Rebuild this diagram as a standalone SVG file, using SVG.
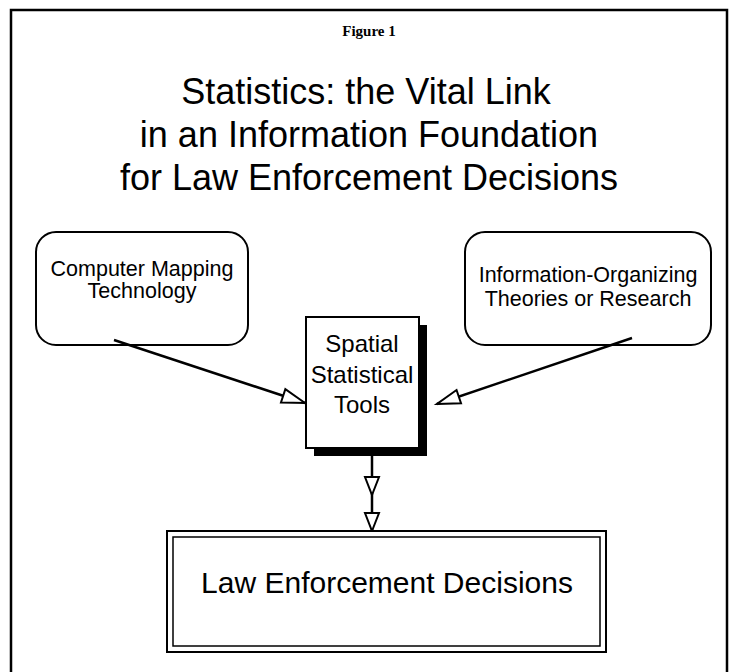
<svg xmlns="http://www.w3.org/2000/svg" width="737" height="672" viewBox="0 0 737 672">
  <style>
    .sans { font-family: "Liberation Sans", Arial, Helvetica, sans-serif; fill: #000; text-anchor: middle; }
    .title { font-size: 36px; }
    .label { font-size: 21.5px; }
    .center-label { font-size: 24px; }
    .decision-label { font-size: 30px; }
    .caption { font-family: "Liberation Serif", "Times New Roman", serif; font-size: 15px; font-weight: bold; text-anchor: middle; }
    .box { fill: #fff; stroke: #000; stroke-width: 2; }
    .conn { fill: none; stroke: #000; stroke-width: 2.5; }
  </style>
  <defs>
    <!-- hollow open-triangle arrowhead, tip at the path end -->
    <marker id="hollow" markerUnits="userSpaceOnUse" viewBox="-24 -9 26 18" refX="0" refY="0" markerWidth="26" markerHeight="18" orient="auto" overflow="visible">
      <path d="M0,0 L-23,-7 L-23,7 Z" fill="#fff" stroke="#000" stroke-width="2" stroke-linejoin="miter"/>
    </marker>
    <marker id="hollow-small" markerUnits="userSpaceOnUse" viewBox="-20 -9 22 18" refX="0" refY="0" markerWidth="22" markerHeight="18" orient="auto" overflow="visible">
      <path d="M0,0 L-18,-7 L-18,7 Z" fill="#fff" stroke="#000" stroke-width="2" stroke-linejoin="miter"/>
    </marker>
  </defs>

  <rect width="737" height="672" fill="#fff"/>

  <!-- page frame, open at the bottom -->
  <path d="M11,672 L11,10 L727,10 L727,672" fill="none" stroke="#000" stroke-width="2.5"/>

  <text class="caption" x="369" y="36">Figure 1</text>

  <g id="title" class="sans title">
    <text x="366" y="104">Statistics: the Vital Link</text>
    <text x="369" y="147">in an Information Foundation</text>
    <text x="369" y="190">for Law Enforcement Decisions</text>
  </g>

  <g id="node-mapping">
    <rect class="box" x="36" y="232" width="212" height="113" rx="20" ry="20"/>
    <text class="sans label" x="142" y="276">Computer Mapping</text>
    <text class="sans label" x="142" y="298">Technology</text>
  </g>

  <g id="node-theories">
    <rect class="box" x="465" y="232" width="246" height="113" rx="20" ry="20"/>
    <text class="sans label" x="588" y="282">Information-Organizing</text>
    <text class="sans label" x="588" y="306">Theories or Research</text>
  </g>

  <g id="connectors">
    <path class="conn" d="M114,340 L305,403" marker-end="url(#hollow)"/>
    <path class="conn" d="M632,338 L437,404" marker-end="url(#hollow)"/>
    <path class="conn" d="M372,437 L372,495 L372,531" marker-mid="url(#hollow-small)" marker-end="url(#hollow-small)"/>
  </g>

  <g id="node-tools">
    <rect x="314" y="325" width="113" height="131" fill="#000"/>
    <rect class="box" x="306" y="317" width="113" height="131" stroke-width="1.5"/>
    <text class="sans center-label" x="362" y="352">Spatial</text>
    <text class="sans center-label" x="362" y="383">Statistical</text>
    <text class="sans center-label" x="362" y="413">Tools</text>
  </g>

  <g id="node-decisions">
    <rect x="167" y="531" width="439" height="121" fill="#fff" stroke="#000" stroke-width="2"/>
    <rect x="173" y="537" width="427" height="109" fill="none" stroke="#000" stroke-width="1.5"/>
    <text class="sans decision-label" x="387" y="593">Law Enforcement Decisions</text>
  </g>
</svg>
